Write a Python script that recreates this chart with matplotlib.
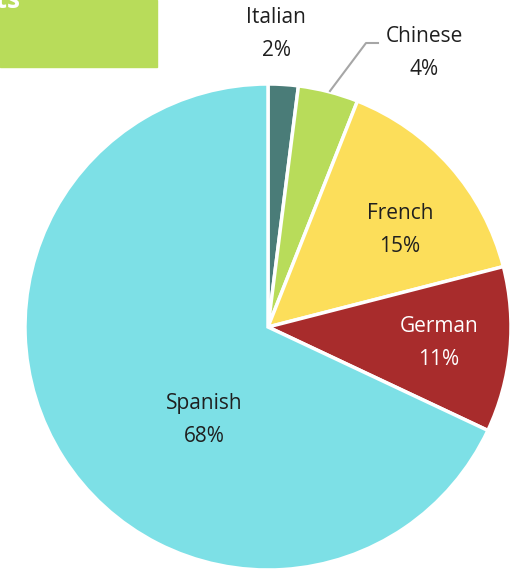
import matplotlib.pyplot as plt
import matplotlib.patches as patches

idiomas = ['Italian', 'Chinese', 'French', 'German', 'Spanish']
porcentajes = [2, 4, 15, 11, 68]
colores = ['#4A7C78', '#B8DC5A', '#FCDE5A', '#A82C2C', '#7DE0E6']

W, H = 520, 570
cx, cy, r = 268, 327, 243

def px(x, y):
    # pixel de la imagen -> coordenadas del pie (centro 0,0 radio 1)
    return (x - cx) / r, (cy - y) / r

plt.rcParams['font.family'] = ['Open Sans', 'DejaVu Sans']

fig = plt.figure(figsize=(W / 100, H / 100), dpi=100)
ax = fig.add_axes([0, 0, 1, 1])
ax.pie(porcentajes, colors=colores, startangle=90, counterclock=False,
       radius=1, wedgeprops=dict(edgecolor='white', linewidth=2.5))
ax.set_xlim(-cx / r, (W - cx) / r)
ax.set_ylim(-(H - cy) / r, cy / r)
ax.set_aspect('equal')
ax.axis('off')

pos = {
    'Italian': (276, 34),
    'Chinese': (424, 53),
    'French': (400, 230),
    'German': (439, 343),
    'Spanish': (204, 420),
}
for nombre, val in zip(idiomas, porcentajes):
    x, y = px(*pos[nombre])
    col = 'white' if nombre == 'German' else '#1F1F1F'
    ax.text(x, y, f'{nombre}\n{val}%', ha='center', va='center',
            fontsize=15, color=col, linespacing=1.7)

# linea guia de Chinese
p1 = px(330, 91)
p2 = px(366, 43)
p3 = px(378, 43)
ax.plot([p1[0], p2[0], p3[0]], [p1[1], p2[1], p3[1]], color='#A6A6A6', lw=1.5)

# caja verde recortada arriba a la izquierda
fig.patches.append(patches.Rectangle((0, 1 - 67 / H), 157 / W, 67 / H,
                                     transform=fig.transFigure,
                                     color='#B8DC5A', zorder=5))
fig.text(21 / W, 1 - 1 / H, 'Students', ha='right', va='center',
         color='white', fontsize=19, fontweight='bold', zorder=6)

fig.savefig('out.png', dpi=100)
